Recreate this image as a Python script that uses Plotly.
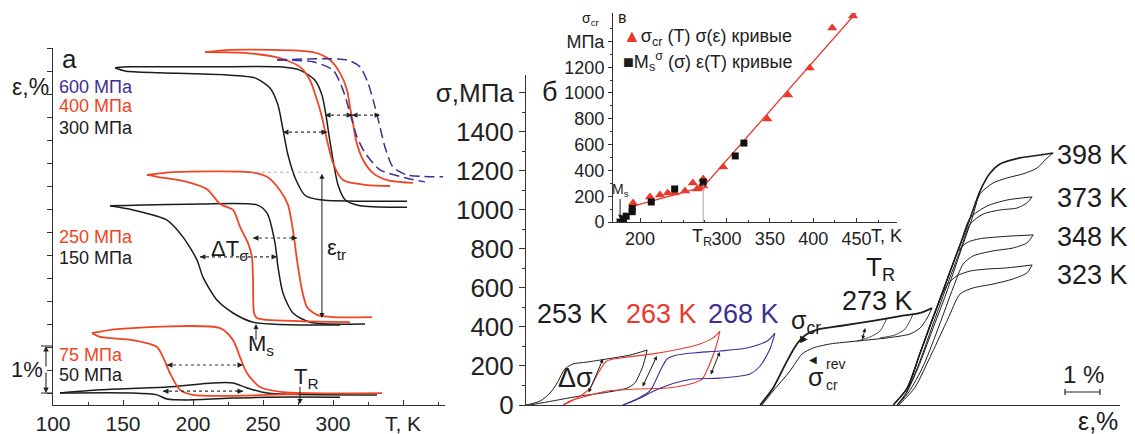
import plotly.graph_objects as go

W, H = 1135, 434
FONT = "Liberation Sans, Arial, Helvetica, sans-serif"
RED = "#ef4524"
RED_B = "#e8392c"
PURPLE = "#3d2f94"
BLACK = "#1c1c1c"

# ================= panel a : strain (stacked, %) vs temperature (K) =================
T_600_heat = [260, 310, 319.3, 325, 330, 333.6, 337.1, 342.9, 352.9, 378.6]
e_600_heat = [7.24, 7.24, 7.09, 6.74, 6.22, 5.78, 5.35, 4.91, 4.74, 4.70]
T_600_cool = [260, 285.7, 300, 307.1, 312.1, 317.1, 322.9, 333.6, 352.9, 365.7]
e_600_cool = [7.24, 7.20, 7.02, 6.59, 6.09, 5.57, 5.22, 4.85, 4.67, 4.59]

T_400_heat = [208.6, 226.4, 285.7, 297.9, 305, 310, 312.1, 314.3, 316.4, 321.4, 328.6, 338.6, 357.1]
e_400_heat = [7.41, 7.46, 7.41, 7.24, 6.96, 6.59, 6.22, 5.87, 5.50, 5.07, 4.78, 4.63, 4.57]
T_400_cool = [208.6, 238.6, 262.1, 276.4, 283.6, 288.6, 292.1, 295.7, 300, 307.1, 324.3, 340.7]
e_400_cool = [7.41, 7.39, 7.28, 7.09, 6.80, 6.37, 6.00, 5.50, 5.00, 4.63, 4.52, 4.50]

T_300_heat = [144.3, 155, 205, 262.1, 276.4, 287.1, 292.1, 295, 297.1, 300, 303.6, 308.6, 319.3, 352.9]
e_300_heat = [7.07, 7.09, 7.09, 7.09, 7.02, 6.80, 6.48, 6.04, 5.61, 5.07, 4.52, 4.20, 4.07, 4.04]
T_300_cool = [144.3, 151.4, 176.4, 226.4, 244.3, 255, 260.7, 264.3, 267.9, 273.6, 280, 290.7, 352.9]
e_300_cool = [7.07, 7.00, 6.96, 6.91, 6.85, 6.63, 6.26, 5.72, 5.17, 4.63, 4.30, 4.20, 4.17]

T_250_heat = [167.1, 185.7, 240.7, 252.9, 262.1, 267.9, 271.4, 274.3, 277.9, 281.4, 288.6, 300, 327.9]
e_250_heat = [4.74, 4.80, 4.80, 4.70, 4.41, 4.09, 3.54, 2.89, 2.24, 1.87, 1.70, 1.65, 1.65]
T_250_cool = [167.1, 174.3, 195.7, 210, 219.3, 228.6, 233.6, 239.3, 242.1, 242.9, 243.6, 245.7, 252.9, 312.1]
e_250_cool = [4.74, 4.70, 4.59, 4.43, 4.11, 3.98, 3.61, 3.26, 2.96, 2.39, 1.74, 1.63, 1.59, 1.54]

T_150_heat = [140.7, 205, 245.7, 252.9, 258.6, 260.7, 264.3, 271.4, 283.6, 322.9]
e_150_heat = [4.07, 4.11, 4.09, 3.91, 3.26, 2.74, 2.17, 1.74, 1.54, 1.50]
T_150_cool = [140.7, 157.1, 181.4, 192.9, 202.9, 207.1, 217.1, 228.6, 242.9, 305]
e_150_cool = [4.07, 3.98, 3.76, 3.39, 2.89, 2.52, 2.02, 1.74, 1.54, 1.48]

T_75_heat = [127.9, 145.7, 219.3, 228.6, 233.6, 238.6, 247.9, 264.3, 335]
e_75_heat = [1.30, 1.39, 1.41, 1.15, 0.78, 0.43, 0.13, 0.02, 0.0]
T_75_cool = [127.9, 133.6, 157.1, 174.3, 178.6, 183.6, 190.7, 200, 276.4]
e_75_cool = [1.30, 1.22, 1.15, 1.00, 0.78, 0.43, 0.07, -0.04, -0.02]

T_50_heat = [105, 133.6, 181.4, 214.3, 228.6, 238.6, 252.9, 331.4]
e_50_heat = [0.0, 0.07, 0.13, 0.22, 0.22, 0.11, 0.0, -0.04]
T_50_cool = [105, 157.1, 174.3, 181.4, 195.7, 228.6, 252.9, 305]
e_50_cool = [0.0, 0.0, -0.04, -0.13, -0.15, -0.11, -0.09, -0.09]

# hysteresis width markers (dotted double arrows): strain level, left T, right T
dT_e = [5.67, 6.04, 6.04, 3.37, 2.96, 0.61, 0.04]
dT_T1 = [264.3, 294.3, 313.6, 242.9, 205, 181.4, 178.6]
dT_T2 = [295.7, 313.6, 333.6, 274.3, 260, 235.7, 235.7]

a_xticks = [100, 150, 200, 250, 300, 350]
a_xticktext = ["100", "150", "200", "250", "300", "T, K"]

# ================= panel б : stress (MPa) vs strain (%) =================
eps_253_load = [0, 0.40, 0.69, 0.89, 1.11, 1.34, 1.74, 2.31, 2.97, 3.46]
sig_253_load = [0, 20, 62, 113, 185, 210, 220, 236, 256, 282]
eps_253_unload = [3.46, 3.34, 3.11, 2.89, 2.20, 1.54, 0.77, 0.11]
sig_253_unload = [282, 200, 113, 87, 62, 46, 21, 0]

eps_263_load = [1.06, 1.46, 1.83, 2.06, 2.31, 2.69, 3.63, 4.40, 4.97, 5.34, 5.54]
sig_263_load = [0, 36, 87, 164, 226, 241, 262, 287, 313, 344, 379]
eps_263_unload = [5.54, 5.46, 5.26, 5.03, 4.69, 4.03, 3.17, 2.31, 1.74, 1.26, 1.06]
sig_263_unload = [379, 318, 215, 133, 108, 87, 82, 72, 46, 21, 0]

eps_268_load = [2.77, 3.17, 3.54, 3.83, 4.03, 4.31, 4.77, 5.54, 6.31, 6.89, 7.11]
sig_268_load = [0, 31, 72, 174, 236, 256, 267, 277, 292, 328, 369]
eps_268_unload = [7.11, 6.97, 6.69, 6.40, 5.54, 4.77, 4.20, 3.70, 3.25, 2.77]
sig_268_unload = [369, 287, 200, 159, 138, 133, 110, 75, 35, 0]

eps_273_load = [6.69, 7.06, 7.46, 7.74, 8.03, 8.40, 8.97, 9.91, 10.69, 11.26, 11.60]
sig_273_load = [0, 87, 226, 313, 364, 390, 405, 431, 456, 472, 497]
eps_273_unload = [11.60, 11.46, 11.26, 10.97, 10.31, 9.46, 8.69, 8.20, 7.89, 7.54, 7.06, 6.74]
sig_273_unload = [497, 446, 395, 364, 344, 328, 313, 292, 262, 174, 72, 0]
eps_273_inner1 = [11.06, 10.83, 10.54, 10.11]
sig_273_inner1 = [466, 390, 359, 344]
eps_273_inner2 = [10.31, 10.11, 9.83, 9.46]
sig_273_inner2 = [444, 379, 349, 328]

# common (elastic + 398 K) loading branch of the high-temperature group
el_eps = [10.49, 10.89, 11.26, 11.54, 11.83, 12.11, 12.40, 12.69, 12.97, 13.26, 13.54, 14.11, 14.69, 15.06]
el_sig = [0, 87, 267, 405, 544, 682, 821, 959, 1097, 1190, 1236, 1267, 1282, 1292]

eps_398_unload = [15.06, 14.89, 14.60, 14.20, 13.74, 13.34, 12.97, 12.75, 12.42, 12.0, 11.6, 11.2, 10.85, 10.6]
sig_398_unload = [1292, 1267, 1215, 1185, 1164, 1138, 1082, 960, 790, 570, 380, 190, 55, 0]

eps_373_plateau = [13.17, 13.74, 14.46]
sig_373_plateau = [1020, 1051, 1067]
eps_373_unload = [14.46, 14.31, 14.03, 13.54, 13.06, 12.69, 12.42, 12.0, 11.6, 11.2, 10.85, 10.6]
sig_373_unload = [1067, 1036, 1010, 1000, 979, 928, 800, 600, 400, 200, 60, 0]

eps_348_plateau = [12.35, 12.6, 12.95, 13.74, 14.49]
sig_348_plateau = [790, 833, 852, 865, 872]
eps_348_unload = [14.49, 14.31, 13.91, 13.34, 12.77, 12.49, 12.2, 11.8, 11.35, 10.95, 10.62]
sig_348_unload = [872, 831, 805, 790, 764, 723, 600, 405, 200, 70, 0]

eps_323_plateau = [12.05, 12.31, 12.69, 13.17, 13.74, 14.46]
sig_323_plateau = [620, 662, 687, 697, 703, 718]
eps_323_unload = [14.46, 14.31, 13.91, 13.34, 12.77, 12.40, 12.05, 11.6, 11.1, 10.65]
sig_323_unload = [718, 677, 646, 620, 600, 569, 440, 267, 87, 0]

# Δσ double arrows: (eps_top, sig_top, eps_bottom, sig_bottom)
b_arrows = [(2.2, 236, 1.77, 56), (3.74, 251, 3.31, 87), (5.54, 272, 5.26, 149), (9.69, 395, 9.6, 328)]
b_yticks = [0, 200, 400, 600, 800, 1000, 1200, 1400, 1600]
b_yticktext = ["0", "200", "400", "600", "800", "1000", "1200", "1400", "σ,МПа"]

# ================= inset в : critical stress vs temperature =================
T_cr = [192, 211.5, 223, 232, 240, 252, 261, 266, 269, 273, 273, 296, 347, 371, 396, 422, 446]
s_cr = [147, 194, 209, 225, 225, 240, 302, 256, 264, 333, 279, 426, 798, 984, 1194, 1504, 1597]
T_ms = [177, 181, 184, 191, 191, 213, 240, 273, 310, 320]
s_ms = [0, 25, 45, 80, 105, 155, 256, 310, 512, 612]
T_fit = [190, 273, 452]
s_fit = [120, 272, 1640]
T_R = 273
c_xticks = [200, 300, 350, 400, 450]
c_yticks = [0, 200, 400, 600, 800, 1000, 1200, 1400]
c_yticktext = ["0", "200", "400", "600", "800", "1000", "1200", "МПа"]

# ------------------------------------------------------------------------------
fig = go.Figure()


def line(x, y, color, ax, width=1.3, dash="solid", smooth=0.7):
    fig.add_trace(go.Scatter(x=x, y=y, mode="lines", xaxis=ax[0], yaxis=ax[1],
                             line=dict(color=color, width=width, dash=dash,
                                       shape="spline", smoothing=smooth),
                             hoverinfo="skip", showlegend=False))


A = ("x", "y")
B = ("x2", "y2")
C = ("x3", "y3")

# panel a curves
line(T_50_heat, e_50_heat, BLACK, A, 1.5)
line(T_50_cool, e_50_cool, BLACK, A, 1.5)
line(T_75_heat, e_75_heat, RED, A, 1.8)
line(T_75_cool, e_75_cool, RED, A, 1.8)
line(T_150_heat, e_150_heat, BLACK, A, 1.5)
line(T_150_cool, e_150_cool, BLACK, A, 1.5)
line(T_250_heat, e_250_heat, RED, A, 1.8)
line(T_250_cool, e_250_cool, RED, A, 1.8)
line(T_300_heat, e_300_heat, BLACK, A, 1.5)
line(T_300_cool, e_300_cool, BLACK, A, 1.5)
line(T_400_heat, e_400_heat, RED, A, 1.8)
line(T_400_cool, e_400_cool, RED, A, 1.8)
line(T_600_heat, e_600_heat, PURPLE, A, 1.5, "10px,5px")
line(T_600_cool, e_600_cool, PURPLE, A, 1.5, "10px,5px")

# panel б curves
line(eps_253_load, sig_253_load, BLACK, B, 1.0)
line(eps_253_unload, sig_253_unload, BLACK, B, 1.0)
line(eps_263_load, sig_263_load, RED_B, B, 1.1)
line(eps_263_unload, sig_263_unload, RED_B, B, 1.1)
line(eps_268_load, sig_268_load, PURPLE, B, 1.1)
line(eps_268_unload, sig_268_unload, PURPLE, B, 1.1)
line(eps_273_load, sig_273_load, BLACK, B, 1.8)
line(eps_273_unload, sig_273_unload, BLACK, B, 1.0)
line(eps_273_inner1, sig_273_inner1, BLACK, B, 0.8)
line(eps_273_inner2, sig_273_inner2, BLACK, B, 0.8)
line(el_eps, el_sig, BLACK, B, 1.6)
line(eps_398_unload, sig_398_unload, BLACK, B, 1.0)
line(el_eps[:8] + eps_373_plateau, el_sig[:8] + sig_373_plateau, BLACK, B, 1.0)
line(eps_373_unload, sig_373_unload, BLACK, B, 1.0)
line(el_eps[:6] + eps_348_plateau, el_sig[:6] + sig_348_plateau, BLACK, B, 1.0)
line(eps_348_unload, sig_348_unload, BLACK, B, 1.0)
line(el_eps[:5] + eps_323_plateau, el_sig[:5] + sig_323_plateau, BLACK, B, 1.0)
line(eps_323_unload, sig_323_unload, BLACK, B, 1.0)

# inset
fig.add_trace(go.Scatter(x=T_fit, y=s_fit, mode="lines", xaxis="x3", yaxis="y3",
                         line=dict(color=RED_B, width=1.3), hoverinfo="skip", showlegend=False))
fig.add_trace(go.Scatter(x=T_cr, y=s_cr, mode="markers", xaxis="x3", yaxis="y3",
                         marker=dict(symbol="triangle-up", size=9, color=RED_B),
                         hoverinfo="skip", showlegend=False))
fig.add_trace(go.Scatter(x=T_ms, y=s_ms, mode="markers", xaxis="x3", yaxis="y3",
                         marker=dict(symbol="square", size=7, color="#111"),
                         hoverinfo="skip", showlegend=False))

# ------------------------------------------------------------------------------
ann = []
shapes = []


def txt(s, x, y, size, color=BLACK, xanchor="center"):
    ann.append(dict(text=s, x=x / W, y=1 - y / H, xref="paper", yref="paper",
                    showarrow=False, xanchor=xanchor, yanchor="middle",
                    font=dict(size=size, color=color, family=FONT)))


def arrow_data(x, y, ax, ay, xr, yr, both=False, size=0.9, width=1.0, color=BLACK):
    d = dict(x=x, y=y, ax=ax, ay=ay, xref=xr, yref=yr, axref=xr, ayref=yr,
             text="", showarrow=True, arrowhead=2, arrowsize=size, arrowwidth=width,
             arrowcolor=color, standoff=0, startstandoff=0)
    if both:
        d.update(arrowside="end+start", startarrowhead=2, startarrowsize=size)
    ann.append(d)


# panel a dotted ΔT arrows
for e, t1, t2 in zip(dT_e, dT_T1, dT_T2):
    shapes.append(dict(type="line", xref="x", yref="y", x0=t1, x1=t2, y0=e, y1=e,
                       line=dict(color="#333", width=1.2, dash="dot")))
    ann.append(dict(x=t1, y=e, xref="x", yref="y", ax=7, ay=0, text="", showarrow=True,
                    arrowhead=2, arrowsize=0.9, arrowwidth=1.2, arrowcolor="#222", standoff=0))
    ann.append(dict(x=t2, y=e, xref="x", yref="y", ax=-7, ay=0, text="", showarrow=True,
                    arrowhead=2, arrowsize=0.9, arrowwidth=1.2, arrowcolor="#222", standoff=0))

# ε_tr
shapes.append(dict(type="line", xref="x", yref="y", x0=240.7, x1=292.1, y0=4.80, y1=4.80,
                   line=dict(color="#999", width=0.8, dash="dot")))
arrow_data(292.1, 1.63, 292.1, 4.80, "x", "y", both=True, size=1.0, width=1.0)
# M_s and T_R arrows
arrow_data(245, 1.50, 245, 1.12, "x", "y", size=1.0, width=1.0)
arrow_data(276.4, -0.24, 276.4, 0.17, "x", "y", size=1.0, width=1.0)

# 1% bracket
for yy in (346, 393):
    shapes.append(dict(type="line", xref="paper", yref="paper", x0=41 / W, x1=53 / W,
                       y0=1 - yy / H, y1=1 - yy / H, line=dict(color="#222", width=1)))
ann.append(dict(x=46 / W, y=1 - 346 / H, xref="paper", yref="paper", ax=0, ay=22, text="",
                showarrow=True, arrowhead=2, arrowsize=1.0, arrowwidth=1.1, arrowcolor="#222"))
ann.append(dict(x=46 / W, y=1 - 393 / H, xref="paper", yref="paper", ax=0, ay=-22, text="",
                showarrow=True, arrowhead=2, arrowsize=1.0, arrowwidth=1.1, arrowcolor="#222"))

# panel a texts
txt("a", 69, 59, 26)
txt("ε,%", 30, 87, 23)
txt("600 МПа", 57, 87, 18, PURPLE, "left")
txt("400 МПа", 57, 106, 18, RED, "left")
txt("300 МПа", 57, 128, 18, BLACK, "left")
txt("250 МПа", 57, 237, 18, RED, "left")
txt("150 МПа", 57, 258, 18, BLACK, "left")
txt("75 МПа", 57, 355, 18, RED, "left")
txt("50 МПа", 57, 375, 18, BLACK, "left")
txt("1%", 27, 369, 22)
txt("ΔT<sub>σ</sub>", 209, 250, 22, BLACK, "left")
txt("ε<sub>tr</sub>", 325, 249, 22, BLACK, "left")
txt("M<sub>s</sub>", 246, 345, 22, BLACK, "left")
txt("T<sub>R</sub>", 292, 378, 22, BLACK, "left")

# panel б arrows and texts
for e1, s1, e2, s2 in b_arrows:
    arrow_data(e1, s1, e2, s2, "x2", "y2", both=True, size=0.8, width=1.0)

txt("б", 549, 92, 27)
txt("253 K", 572, 314, 27)
txt("263 K", 661, 314, 27, RED_B)
txt("268 K", 743, 314, 27, PURPLE)
txt("T<sub>R</sub>", 880, 268, 26)
txt("273 K", 877, 301, 27)
txt("σ<sub>cr</sub>", 789, 322, 25, BLACK, "left")
txt("▶", 804, 338, 10)
txt("◀", 813, 359, 10)
txt("σ", 806, 377, 25, BLACK, "left")
txt("rev", 824, 364, 14, BLACK, "left")
txt("cr", 824, 385, 14, BLACK, "left")
txt("Δσ", 575, 378, 27)
txt("398 K", 1092, 155, 27)
txt("373 K", 1092, 198, 27)
txt("348 K", 1092, 237, 27)
txt("323 K", 1092, 275, 27)
txt("1 %", 1083, 374, 24)
txt("ε,%", 1098, 421, 25)
shapes.append(dict(type="line", xref="paper", yref="paper", x0=1065 / W, x1=1100 / W,
                   y0=1 - 392 / H, y1=1 - 392 / H, line=dict(color="#222", width=1.2)))
for xx in (1065, 1100):
    shapes.append(dict(type="line", xref="paper", yref="paper", x0=xx / W, x1=xx / W,
                       y0=1 - 389 / H, y1=1 - 395 / H, line=dict(color="#222", width=1.2)))

# inset texts
shapes.append(dict(type="line", xref="x3", yref="y3", x0=T_R, x1=T_R, y0=0, y1=290,
                   line=dict(color="#aaa", width=1)))
arrow_data(177, 25, 177, 190, "x3", "y3", size=0.8, width=1.0)
txt("M<sub>s</sub>", 620, 190, 14)
txt("σ<sub>cr</sub>", 591, 19, 14)
txt("в", 622, 17, 16)
txt("T<sub>R</sub>", 702, 237, 18)
txt("T, K", 886, 236, 18)
txt('<span style="color:%s">▲</span>σ<sub>cr</sub> (T) σ(ε) кривые' % RED_B, 621, 37, 18, BLACK, "left")
txt("■M<sub>s</sub><sup>σ</sup> (σ) ε(T) кривые", 621, 62, 18, BLACK, "left")

axis_common = dict(showgrid=False, zeroline=False, showline=True, linecolor="#333",
                   linewidth=1, tickcolor="#333", automargin=False,
                   tickfont=dict(family=FONT, color="#222"))

fig.update_layout(
    width=W, height=H,
    autosize=False,
    margin=dict(l=0, r=0, t=0, b=0, pad=0, autoexpand=False),
    paper_bgcolor="white", plot_bgcolor="rgba(0,0,0,0)",
    font=dict(family=FONT, color=BLACK),
    showlegend=False,
    xaxis=dict(axis_common, domain=[53 / W, 445 / W], range=[100, 380], anchor="y",
               ticks="inside", ticklen=5, tickvals=a_xticks, ticktext=a_xticktext,
               tickfont=dict(size=21, family=FONT, color="#222"),
               minor=dict(ticks="inside", ticklen=3, tickvals=[125, 175, 225, 275, 325, 375],
                          tickcolor="#333")),
    yaxis=dict(axis_common, domain=[1 - 405 / H, 1 - 48 / H], range=[-0.26, 7.5], anchor="x",
               ticks="outside", ticklen=5, tickvals=[i * 0.5 for i in range(16)],
               showticklabels=False),
    xaxis2=dict(axis_common, domain=[526 / W, 1120 / W], range=[0, 16.97], anchor="y2",
                ticks="", showticklabels=False),
    yaxis2=dict(axis_common, domain=[1 - 405 / H, 1 - 75 / H], range=[0, 1692], anchor="x2",
                ticks="outside", ticklen=6, tickvals=b_yticks, ticktext=b_yticktext,
                tickfont=dict(size=26, family=FONT, color="#222"),
                minor=dict(ticks="outside", ticklen=3,
                           tickvals=[100, 300, 500, 700, 900, 1100, 1300, 1500],
                           tickcolor="#333")),
    xaxis3=dict(axis_common, domain=[613 / W, 897 / W], range=[168.8, 496.8], anchor="y3",
                ticks="inside", ticklen=4, tickvals=c_xticks,
                tickfont=dict(size=18, family=FONT, color="#222"),
                minor=dict(ticks="inside", ticklen=2,
                           tickvals=[175, 225, 250, 275, 325, 375, 425, 475], tickcolor="#333")),
    yaxis3=dict(axis_common, domain=[1 - 222 / H, 1 - 13 / H], range=[0, 1620], anchor="x3",
                ticks="outside", ticklen=4, tickvals=c_yticks, ticktext=c_yticktext,
                tickfont=dict(size=18, family=FONT, color="#222"),
                minor=dict(ticks="outside", ticklen=2,
                           tickvals=[100, 300, 500, 700, 900, 1100, 1300, 1500],
                           tickcolor="#333")),
    annotations=ann,
    shapes=shapes,
)

fig.write_html("out.html",
               config={"displayModeBar": False, "responsive": False},
               post_script="document.body.style.margin='0px';"
                           "document.body.style.overflow='hidden';"
                           "document.documentElement.style.overflow='hidden';")
